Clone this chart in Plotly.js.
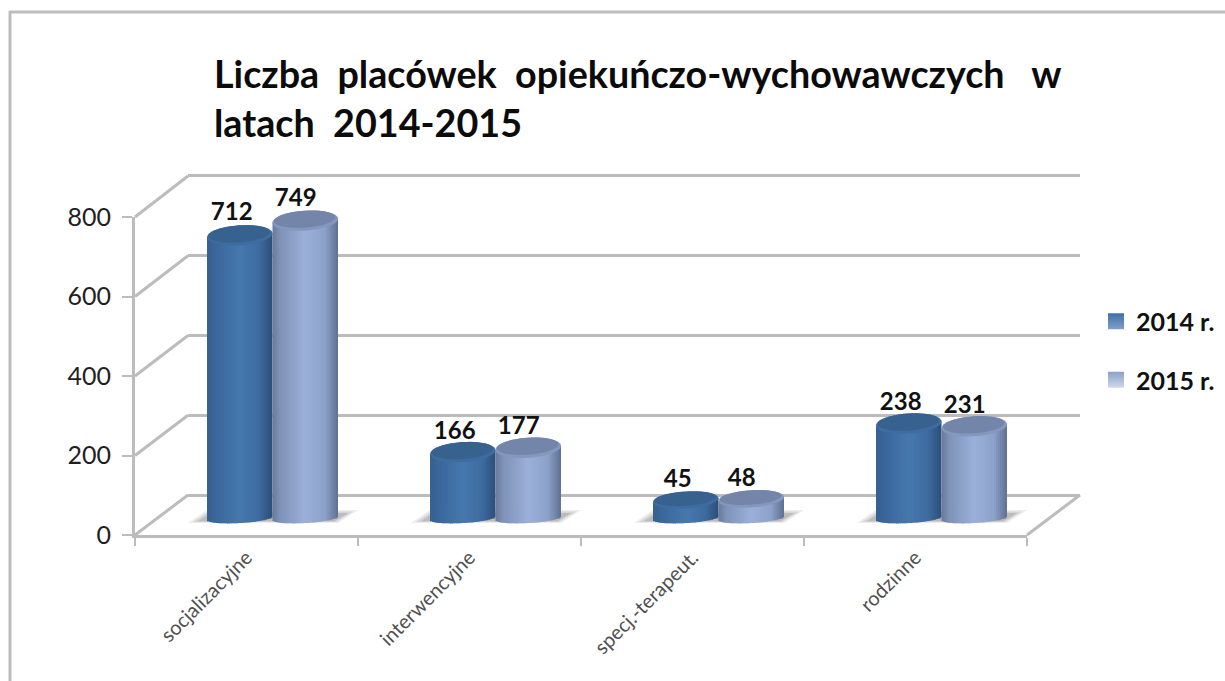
<!DOCTYPE html>
<html><head><meta charset="utf-8">
<script src="https://cdn.plot.ly/plotly-3.0.1.min.js"></script>
<style>html,body{margin:0;padding:0;background:#fff;overflow:hidden}</style>
</head><body><div id="chart" style="width:1225px;height:681px"></div>
<script>
const categories = ["socjalizacyjne", "interwencyjne", "specj.-terapeut.", "rodzinne"];
const values2014 = [712, 166, 45, 238];
const values2015 = [749, 177, 48, 231];
const seriesNames = ["2014 r.", "2015 r."];
const yTicks = [0, 200, 400, 600, 800];

const W = 1225, H = 681;
const px = v => v / W, py = v => 1 - v / H;
const FONT = "Lato, 'Open Sans', sans-serif";
const GRID = "#bcbcbc";

// pixel geometry of the pseudo 3D box
const front = {x0: 135, x1: 1027, y0: 535, y1: 217};
const back  = {x0: 188, x1: 1080, y0: 499, y1: 172};   // y range -10..810
const mid   = {x0: 161, x1: 1053, y0: 537.85, y1: 160.7}; // y range -50..900
const uX = 223;            // px per category
const uY = (mid.y0 - mid.y1) / 950; // px per value unit
const barW = 65.5 / uX;

const shades = [
  {side: [[0,"#35608f"],[0.12,"#3a669a"],[0.5,"#4678ae"],[0.8,"#3d6b9f"],[1,"#2c4f78"]],
   cap: "#3f6c9f", capIn: "#37618f", mark: "#3f6fa6", markTop: "#7fa0c8"},
  {side: [[0,"#6a7a9a"],[0.12,"#8093b8"],[0.5,"#9ab0da"],[0.8,"#8da2c9"],[1,"#5e6f91"]],
   cap: "#8498bf", capIn: "#7385a8", mark: "#8ba0c6", markTop: "#cfd9ea"}
];
function hex(c){return [1,3,5].map(i=>parseInt(c.substr(i,2),16));}
function shade(stops,t){
  for(let i=1;i<stops.length;i++){
    if(t<=stops[i][0]){
      const a=stops[i-1],b=stops[i],f=(t-a[0])/(b[0]-a[0]);
      const A=hex(a[1]),B=hex(b[1]);
      return "rgb("+A.map((v,k)=>Math.round(v+(B[k]-v)*f)).join(",")+")";
    }
  }
  return stops[stops.length-1][1];
}

const xIdx = categories.map((_,i)=>i);
const traces = [];
// carriers for the front axes and the back wall
traces.push({type:"scatter",mode:"markers",x:categories,y:values2014,xaxis:"x",yaxis:"y",
  marker:{opacity:0,size:1},showlegend:false,hoverinfo:"skip"});
traces.push({type:"scatter",mode:"markers",x:xIdx,y:values2015,xaxis:"x2",yaxis:"y2",
  marker:{opacity:0,size:1},showlegend:false,hoverinfo:"skip"});

const shapes = [];
// frame
shapes.push({type:"line",xref:"paper",yref:"paper",x0:px(10),x1:px(10),y0:py(11),y1:0,line:{color:"#bdbdbd",width:3}});
shapes.push({type:"line",xref:"paper",yref:"paper",x0:px(9),x1:1,y0:py(12),y1:py(12),line:{color:"#bdbdbd",width:3}});
// box diagonals
const backY = t => 495 - 0.39875 * t;
yTicks.forEach(t=>{
  const f=t/800;
  shapes.push({type:"line",xref:"paper",yref:"paper",layer:"below",
    x0:px(front.x0),x1:px(back.x0),
    y0:py(front.y0+(front.y1-front.y0)*f),y1:py(backY(t)),
    line:{color:GRID,width:3}});
});
shapes.push({type:"line",xref:"paper",yref:"paper",layer:"below",
  x0:px(front.x1),x1:px(back.x1),y0:py(front.y0),y1:py(backY(0)),line:{color:GRID,width:3}});

// floor shadows
xIdx.forEach(i=>{
  [[0,0.10],[3,0.13],[6,0.16]].forEach(([inset,op])=>{
    const P=[[-84.5+inset*1.6,523-inset*0.3],[-65.5+inset*0.6,510+inset*0.5],[85.5-inset*1.6,510+inset*0.5],[65.5-inset*0.6,523-inset*0.3]];
    const path=P.map((p,k)=>(k?"L":"M")+(i+p[0]/uX)+","+((mid.y0-p[1])/uY-50)).join(" ")+" Z";
    shapes.push({type:"path",xref:"x3",yref:"y3",layer:"below",path,fillcolor:"#404040",opacity:op,line:{width:0}});
  });
});

function capPath(cx,val,rx,ry,tilt){
  const pts=[];
  for(let k=0;k<48;k++){
    const a=k/48*2*Math.PI, c=Math.cos(a), s=Math.sin(a);
    pts.push((k?"L":"M")+(cx+c*rx)+","+(val+(s*ry+c*tilt)/uY));
  }
  return pts.join(" ")+" Z";
}

const N = 30, BOT_RY = 5, TILT = 2;
[values2014,values2015].forEach((vals,s)=>{
  const left = s===0 ? -barW : 0;
  for(let k=0;k<N;k++){
    const tc=(k+0.5)/N, t=tc*2-1;
    const drop=(BOT_RY*Math.sqrt(1-t*t)-TILT*t)/uY;
    const rise=TILT*t/uY;
    const base=vals.map(()=>-drop);
    const h=vals.map(v=>v+rise+drop);
    const w=barW/N;
    traces.push({type:"bar",x:xIdx,y:h,base:base,xaxis:"x3",yaxis:"y3",
      offset:left+k*w,width:k<N-1?w*1.6:w,
      marker:{color:shade(shades[s].side,tc),line:{width:0}},
      showlegend:false,hoverinfo:"skip"});
  }
  vals.forEach((v,i)=>{
    const cx=i+left+barW/2, ry=v<100?8.5:10;
    shapes.push({type:"path",xref:"x3",yref:"y3",path:capPath(cx,v,barW/2,ry,TILT),fillcolor:shades[s].cap,line:{width:0}});
    shapes.push({type:"path",xref:"x3",yref:"y3",path:capPath(cx-0.003,v+1.5/uY,barW/2*0.94,ry*0.85,TILT),fillcolor:shades[s].capIn,line:{width:0}});
  });
  // data labels
  traces.push({type:"scatter",mode:"text",xaxis:"x3",yaxis:"y3",
    x:xIdx.map(i=>i+left+barW/2-(s===0?8:9.5)/uX),
    y:vals.map(v=>v+(19+2*v/749)/uY),
    text:vals.map(String),textposition:"middle center",cliponaxis:false,
    textfont:{family:FONT,size:24,color:"#111",weight:700},
    showlegend:false,hoverinfo:"skip"});
  // legend entry
  traces.push({type:"scatter",mode:"markers",x:[null],y:[null],xaxis:"x3",yaxis:"y3",
    name:seriesNames[s],legendgroup:seriesNames[s],
    marker:{symbol:"square",size:16,color:shades[s].mark,
      gradient:{type:"vertical",color:shades[s].markTop},line:{width:0}},
    hoverinfo:"skip"});
});

const hidden={visible:true,showgrid:false,showline:false,zeroline:false,showticklabels:false,ticks:""};
const layout={
  width:W,height:H,margin:{l:0,r:0,t:0,b:0,pad:0},
  paper_bgcolor:"#fff",plot_bgcolor:"rgba(0,0,0,0)",
  barmode:"overlay",hovermode:false,
  title:{text:"Liczba  placówek  opiekuńczo-wychowawczych  &nbsp;w<br>latach  2014-2015",
    x:px(214),xanchor:"left",xref:"paper",y:py(88),yanchor:"top",yref:"paper",
    font:{family:FONT,size:37.7,color:"#0b0b0b",weight:700}},
  xaxis:{type:"category",domain:[px(front.x0),px(front.x1)],anchor:"y",categoryorder:"array",categoryarray:categories,
    range:[-0.5,3.5],tickson:"boundaries",ticks:"outside",ticklen:8,tickwidth:2,tickcolor:GRID,
    showline:true,linecolor:GRID,linewidth:3,showgrid:false,zeroline:false,
    tickangle:-45,tickfont:{family:FONT,size:20,color:"#505050"},automargin:false},
  yaxis:{domain:[py(front.y0),py(front.y1)],anchor:"x",range:[0,800],tickvals:yTicks,ticktext:yTicks.map(String),
    ticks:"outside",ticklen:10,tickwidth:2,tickcolor:GRID,showline:true,linecolor:GRID,linewidth:3,ticklabelstandoff:6,
    showgrid:false,zeroline:false,tickfont:{family:FONT,size:25,color:"#1f1f1f"},automargin:false},
  xaxis2:Object.assign({domain:[px(back.x0),px(back.x1)],anchor:"y2",range:[-0.5,3.5]},hidden),
  yaxis2:Object.assign({},hidden,{domain:[py(back.y0),py(back.y1)],anchor:"x2",range:[-10,810],
    tickvals:yTicks,showgrid:true,gridcolor:GRID,gridwidth:3}),
  xaxis3:Object.assign({domain:[px(mid.x0),px(mid.x1)],anchor:"y3",range:[-0.5,3.5]},hidden),
  yaxis3:Object.assign({domain:[py(mid.y0),py(mid.y1)],anchor:"x3",range:[-50,900]},hidden),
  legend:{x:px(1096),xanchor:"left",y:py(298.5),yanchor:"top",bgcolor:"rgba(0,0,0,0)",borderwidth:0,
    traceorder:"grouped",tracegroupgap:23,font:{family:FONT,size:25,color:"#111",weight:700},itemclick:false,itemdoubleclick:false},
  shapes:shapes
};
Plotly.newPlot("chart",traces,layout,{displayModeBar:false,staticPlot:true});
</script></body></html>
